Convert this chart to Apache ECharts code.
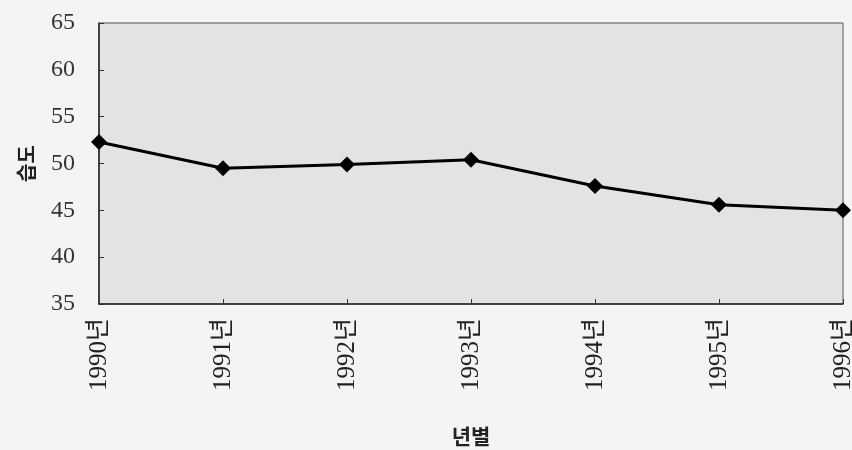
<!DOCTYPE html>
<html><head><meta charset="utf-8">
<script src="https://cdn.jsdelivr.net/npm/echarts@6/dist/echarts.min.js"></script>
<style>html,body{margin:0;padding:0;background:#f4f4f4;}#c{width:852px;height:450px;}</style>
</head><body><div id="c"></div>
<script>
const categories = ['1990년','1991년','1992년','1993년','1994년','1995년','1996년'];
const humidity = [52.3, 49.5, 49.9, 50.4, 47.6, 45.6, 45.0];
const yTicks = {min: 35, max: 65, interval: 5};

const chart = echarts.init(document.getElementById('c'));
chart.setOption({
  backgroundColor: '#f4f4f4',
  animation: false,
  grid: {left: 99, right: 9, top: 23, bottom: 146, show: true, containLabel: false,
         outerBoundsMode: 'none',
         backgroundColor: '#e3e3e3', borderColor: '#555', borderWidth: 1},
  xAxis: {
    type: 'category', data: categories, boundaryGap: false,
    name: '년별', nameLocation: 'middle', nameGap: 122,
    nameTextStyle: {fontFamily: 'Noto Sans CJK KR', fontSize: 21, fontWeight: 'bold', color: '#222'},
    axisLine: {lineStyle: {color: '#222', width: 1.5}},
    axisTick: {inside: true, length: 5, lineStyle: {color: '#333'}},
    axisLabel: {rotate: 90, margin: 14, fontFamily: 'Liberation Serif, Noto Sans CJK KR', fontSize: 25, color: '#222'},
    splitLine: {show: false}
  },
  yAxis: {
    type: 'value', min: yTicks.min, max: yTicks.max, interval: yTicks.interval,
    name: '습도', nameLocation: 'middle', nameGap: 63, nameRotate: 90,
    nameTextStyle: {fontFamily: 'Noto Sans CJK KR', fontSize: 20, fontWeight: 'bold', color: '#222'},
    axisLine: {show: true, lineStyle: {color: '#222', width: 1.5}},
    axisTick: {show: true, inside: true, length: 5, lineStyle: {color: '#333'}},
    axisLabel: {margin: 24, fontFamily: 'Liberation Serif', fontSize: 24, color: '#333'},
    splitLine: {show: false}
  },
  series: [{
    type: 'line', data: humidity,
    symbol: 'diamond', symbolSize: 16,
    lineStyle: {color: '#000', width: 3},
    itemStyle: {color: '#000'}
  }]
});
</script></body></html>
